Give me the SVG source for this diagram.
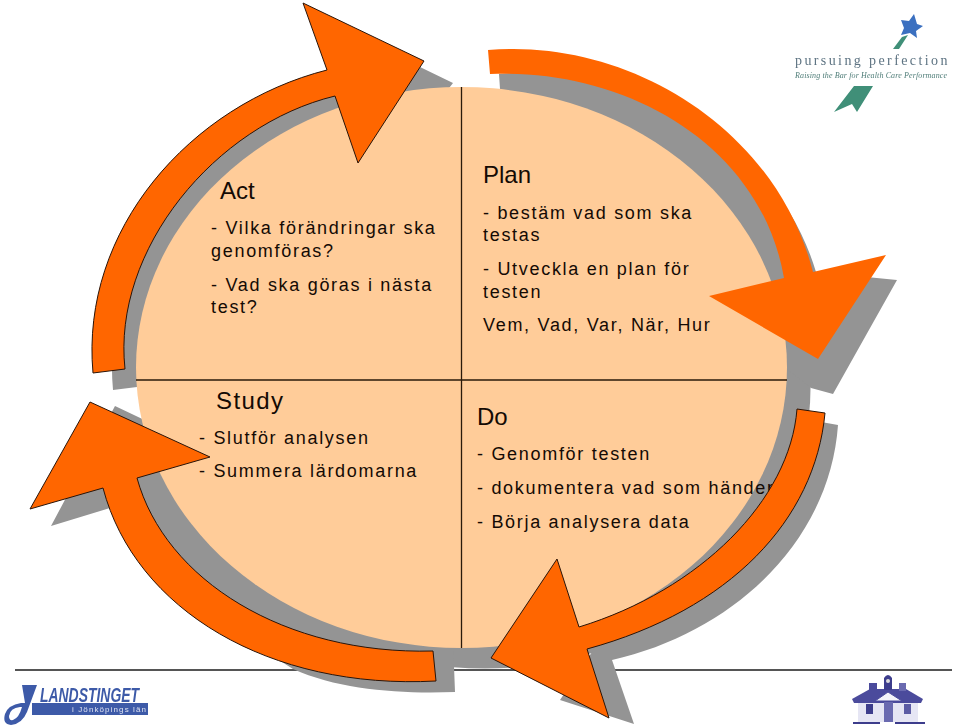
<svg xmlns="http://www.w3.org/2000/svg" width="960" height="728" viewBox="0 0 960 728">
<style>
.g{fill:#949494}
.o{fill:#FF6600}
.s{stroke:#2a1408;stroke-width:1}
.t{font-family:"Liberation Sans",Arial,sans-serif;fill:#140a04}
.h{font-size:24px}
.b{font-size:18px;letter-spacing:1.7px}
.r{stroke:#555;stroke-width:2;fill:none}
.d{stroke:#2a1a0a;stroke-width:1.3;fill:none}
</style>
<defs><filter id="bl" x="-5%" y="-5%" width="110%" height="110%"><feGaussianBlur stdDeviation="0.45"/></filter></defs>
<rect width="960" height="728" fill="#fff"/>
<g id="rules">
<path class="r" d="M15 670H952"/>
</g>
<g id="shadows">
<ellipse class="g" cx="485" cy="388" rx="325.500" ry="280.500"/>
<path class="g" d="M113 390 C100 247 210 122 347 87 L323 20 L453 83 L378 180 L355 113 C235 142 132 267 145 386Z"/>
<path class="g" d="M499 74 C630 60 775 135 816 272 L897 280 L833 394 L811 388 L700 300 L500 89Z"/>
<path class="g" d="M838 425 C830 540 735 632 612 660 L634 724 L560 700 L600 640 L810 420Z"/>
<path class="g" d="M115 406 L235 463 L200 480 L300 520 L453 640 L455 692 C400 694 340 690 293 669 L200 610 L125 520 L110 508 L51 526Z"/>
</g>
<g id="quadrants">
<ellipse cx="461.500" cy="367.500" rx="325.500" ry="280.500" fill="#FFCC99"/>
<path class="d" d="M461.500 87V648M136 380H787"/>
</g>
<g id="plan">
<text class="t h" x="483" y="183">Plan</text>
<text class="t b" x="483" y="219">- bestäm vad som ska</text>
<text class="t b" x="483" y="241">testas</text>
<text class="t b" x="483" y="275">- Utveckla en plan för</text>
<text class="t b" x="483" y="298">testen</text>
<text class="t b" x="483" y="331">Vem, Vad, Var, När, Hur</text>
</g>
<g id="do">
<text class="t h" x="477" y="425">Do</text>
<text class="t b" x="477" y="460">- Genomför testen</text>
<text class="t b" x="477" y="494">- dokumentera vad som händer</text>
<text class="t b" x="477" y="528">- Börja analysera data</text>
</g>
<g id="study">
<text class="t h" x="216" y="409" letter-spacing="1.400">Study</text>
<text class="t b" x="199" y="444">- Slutför analysen</text>
<text class="t b" x="199" y="477">- Summera lärdomarna</text>
</g>
<g id="act">
<text class="t h" x="220" y="199">Act</text>
<text class="t b" x="211" y="234">- Vilka förändringar ska</text>
<text class="t b" x="211" y="257">genomföras?</text>
<text class="t b" x="211" y="291">- Vad ska göras i nästa</text>
<text class="t b" x="211" y="313">test?</text>
</g>
<g id="connectors">
<path id="arrow-plan" class="o" d="M488 50 C625 38 775 125 813 272 L886 255 L818 359 L709 296 L784 278 C760 140 620 68 490 74Z"/>
<path id="arrow-do" class="o s" d="M797 409 L825 413 C815 520 730 610 587 649 L609 718 L491 658 L557 559 L579 627 C700 590 790 500 797 409Z"/>
<path id="arrow-study" class="o s" d="M433 651 L436 681 C270 690 135 610 103 488 L30 509 L90 402 L210 457 L137 478 C165 580 285 655 433 651Z"/>
<path id="arrow-act" class="o s" d="M93 373 C80 230 190 105 327 70 L303 3 L424 61 L358 163 L335 96 C215 125 112 250 125 369Z"/>
</g>
<g id="logo-pursuing-perfection" filter="url(#bl)">
<path fill="#3a6fc0" d="M914 14L917 24L923 26L916 31L917 38L910 33L901 35L904 28L901 20L909 21Z"/>
<path fill="#3f8f78" d="M893 49L902 37L908 35L899 49Z"/>
<text x="795" y="65" font-family="'Liberation Serif',serif" font-size="14" letter-spacing="2.4" fill="#5d7382">pursuing perfection</text>
<text x="795" y="78" font-family="'Liberation Serif',serif" font-style="italic" font-size="8" fill="#4f7d78" textLength="152">Raising the Bar for Health Care Performance</text>
<path fill="#3f8f78" d="M873 86H854L834 112L852 104L857 112Z"/>
</g>
<g id="logo-landstinget" filter="url(#bl)">
<path fill="#3d5aa8" d="M22 685H37L27 712Q22 724 11 725Q2 724 5 714Q8 705 21 703L25 703ZM20 707Q10 708 9 716Q9 721 13 720Q19 718 22 707Z" fill-rule="evenodd"/>
<text x="40" y="702" font-family="'Liberation Sans',sans-serif" font-weight="bold" font-style="italic" font-size="21" fill="#3d5aa8" textLength="99" lengthAdjust="spacingAndGlyphs">LANDSTINGET</text>
<rect x="32" y="703" width="116" height="12" fill="#3d5aa8"/>
<text x="72" y="712" font-family="'Liberation Sans',sans-serif" font-size="8" fill="#dfe3f2" textLength="74">i Jönköpings län</text>
</g>
<g id="logo-house" filter="url(#bl)">
<path fill="#e6e6f4" d="M858 700H918V722H858Z"/>
<path fill="#4c4c9c" d="M852 699L870 689H906L923 699L921 703H854Z"/>
<rect x="869" y="683" width="8" height="8" fill="#4c4c9c"/>
<rect x="899" y="683" width="7" height="8" fill="#6a6ab0"/>
<path fill="#3c3c8c" d="M884 690V678Q888 672 892 678V690Z"/>
<circle cx="888" cy="681" r="2" fill="#ddd"/>
<path fill="#f4f4fa" stroke="#4c4c9c" d="M875 701L888 692L902 701Z"/>
<rect x="884" y="702" width="9" height="20" fill="#6a6ab0"/>
<rect x="866" y="704" width="7" height="10" fill="#3c3c8c"/>
<rect x="904" y="704" width="7" height="10" fill="#5c5ca4"/>
<path fill="#3c3c8c" d="M853 722H880V724H853ZM895 722H925V724H895Z"/>
</g>
</svg>
